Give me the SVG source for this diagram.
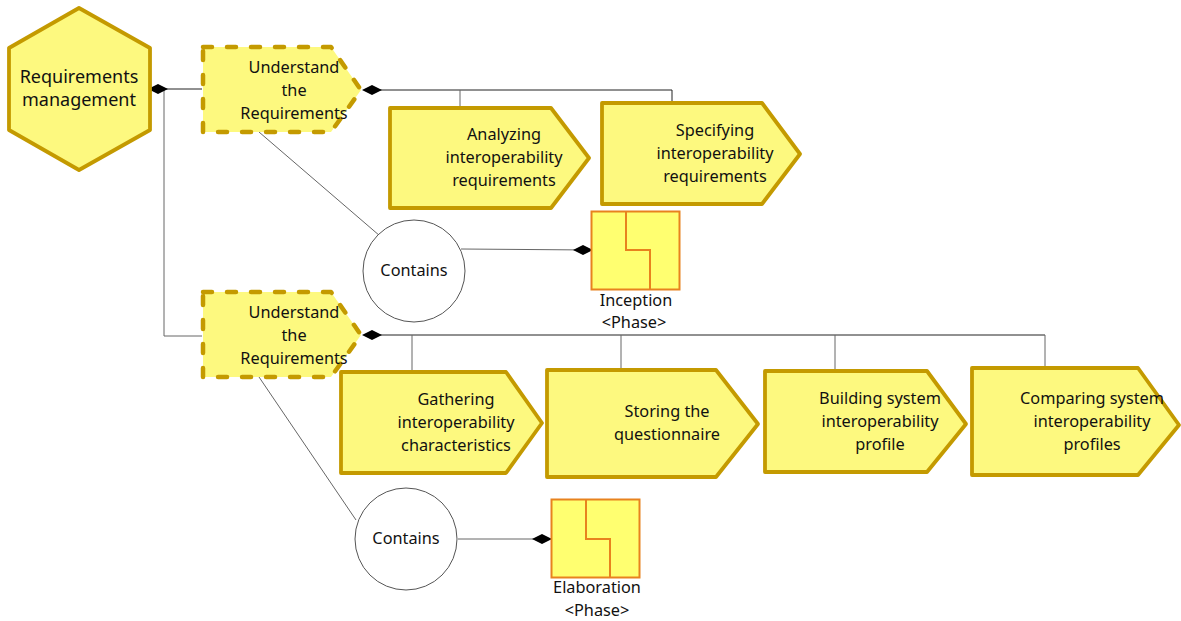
<svg xmlns="http://www.w3.org/2000/svg" width="1181" height="621" viewBox="0 0 1181 621">
<style>
text{font-family:"Noto Sans","Open Sans",sans-serif;font-size:16.300px;fill:#111;text-anchor:middle}
.big{font-size:18px}
.s{fill:#fdf97f;stroke:#c49a00;stroke-width:3.800;stroke-linejoin:round}
.d{fill:#fdf97f;stroke:#c49a00;stroke-width:4.500;stroke-dasharray:9 15;stroke-linecap:round;stroke-linejoin:round}
.c{fill:none;stroke:#666;stroke-width:1}
.k{fill:none;stroke:#222;stroke-width:1}
.o{fill:#fff;stroke:#555;stroke-width:1}
.p{fill:#ffff70;stroke:#e8821e;stroke-width:2}
.pl{fill:none;stroke:#e8821e;stroke-width:2}
.m{fill:#000}
</style>
<defs>
<path id="dia" class="m" d="M-10 0L0-5L10 0L0 5Z"/>
</defs>
<g id="connectors">
<path class="k" d="M164 89H202"/>
<path class="c" d="M164 89V336H202"/>
<path class="k" d="M372 90H672V103"/>
<path class="c" d="M460 90V108"/>
<path class="c" d="M259 132L380 236"/>
<path class="c" d="M461 249L590 250"/>
<path class="k" d="M372 335H1045"/>
<path class="c" d="M1045 335V368M412 335V372M621 335V370M835 335V371"/>
<path class="c" d="M259 377L356 520"/>
<path class="c" d="M458 539H551"/>
<use href="#dia" x="158" y="89"/>
<use href="#dia" x="372" y="90"/>
<use href="#dia" x="583" y="250"/>
<use href="#dia" x="372" y="335"/>
<use href="#dia" x="542" y="539"/>
</g>
<g id="n1"><polygon class="s" points="79,8 150,48 150,130 79,170 9,130 9,48"/><text class="big" x="79" y="83">Requirements</text><text class="big" x="79" y="106">management</text></g>
<g id="n2"><polygon class="d" points="203,47 331,47 361,90 331,132 203,132"/><text x="294" y="73">Understand</text><text x="294" y="96">the</text><text x="294" y="119">Requirements</text></g>
<g id="n3"><polygon class="s" points="390,108 551,108 589,158 551,208 390,208"/><text x="504" y="140">Analyzing</text><text x="504" y="163">interoperability</text><text x="504" y="186">requirements</text></g>
<g id="n4"><polygon class="s" points="602,103 762,103 800,154 762,204 602,204"/><text x="715" y="136">Specifying</text><text x="715" y="159">interoperability</text><text x="715" y="182">requirements</text></g>
<g id="n5"><circle class="o" cx="414" cy="271" r="51"/><text x="414" y="276">Contains</text></g>
<g id="n6"><rect class="p" x="591.500" y="211.500" width="88" height="78"/><path class="pl" d="M626 211V250H650V289"/><text x="636" y="306">Inception</text><text x="634" y="328">&lt;Phase&gt;</text></g>
<g id="n7"><polygon class="d" points="203,292 331,292 361,335 331,377 203,377"/><text x="294" y="318">Understand</text><text x="294" y="341">the</text><text x="294" y="364">Requirements</text></g>
<g id="n8"><polygon class="s" points="341,372 506,372 542,423 506,473 341,473"/><text x="456" y="405">Gathering</text><text x="456" y="428">interoperability</text><text x="456" y="451">characteristics</text></g>
<g id="n9"><polygon class="s" points="547,370 716,370 758,424 716,477 547,477"/><text x="667" y="417">Storing the</text><text x="667" y="440">questionnaire</text></g>
<g id="n10"><polygon class="s" points="765,371 927,371 966,424 927,472 765,472"/><text x="880" y="404">Building system</text><text x="880" y="427">interoperability</text><text x="880" y="450">profile</text></g>
<g id="n11"><polygon class="s" points="972,368 1138,368 1179,425 1138,475 972,475"/><text x="1092" y="404">Comparing system</text><text x="1092" y="427">interoperability</text><text x="1092" y="450">profiles</text></g>
<g id="n12"><circle class="o" cx="406" cy="539" r="51"/><text x="406" y="544">Contains</text></g>
<g id="n13"><rect class="p" x="551.500" y="499.500" width="88" height="78"/><path class="pl" d="M586 499V539H610V577"/><text x="597" y="593">Elaboration</text><text x="597" y="616">&lt;Phase&gt;</text></g>
</svg>
